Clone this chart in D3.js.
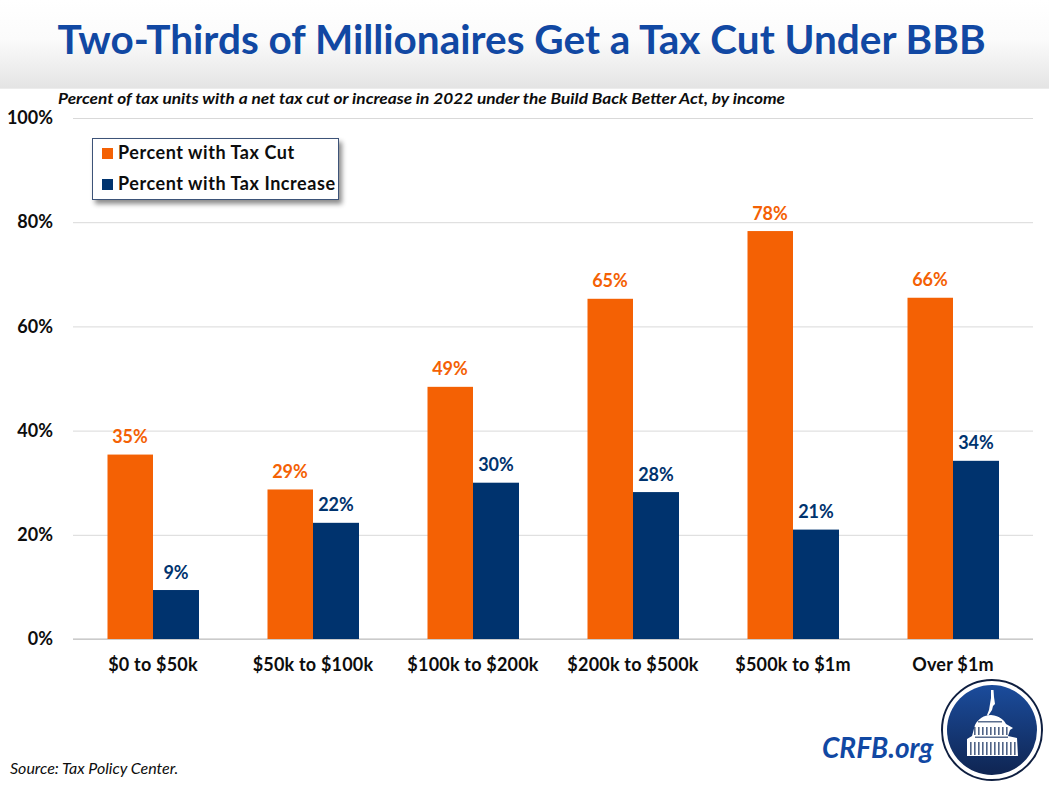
<!DOCTYPE html>
<html><head><meta charset="utf-8">
<script src="https://cdn.jsdelivr.net/npm/d3@7"></script>
<style>html,body{margin:0;padding:0;background:#fff;overflow:hidden}svg{display:block}text{font-family:Lato,sans-serif}</style>
</head><body><svg id="c" width="1049" height="787"></svg>
<script>
const categories=["$0 to $50k","$50k to $100k","$100k to $200k","$200k to $500k","$500k to $1m","Over $1m"];
const taxCut=[35.4,28.7,48.4,65.3,78.3,65.5];
const taxIncrease=[9.4,22.3,30,28.2,21,34.2];
const cutLabels=["35%","29%","49%","65%","78%","66%"];
const incLabels=["9%","22%","30%","28%","21%","34%"];
const yTicks=[0,20,40,60,80,100];
const legendItems=["Percent with Tax Cut","Percent with Tax Increase"];
const orange="#f46104",navy="#00336e",blue="#1148a3",ink="#0d0d0d";
const svg=d3.select("#c");
const defs=svg.append("defs");
const g0=defs.append("linearGradient").attr("id","hd").attr("x1",0).attr("x2",0).attr("y1",0).attr("y2",1);
g0.append("stop").attr("offset",0).attr("stop-color","#ffffff");
g0.append("stop").attr("offset",.45).attr("stop-color","#fbfbfb");
g0.append("stop").attr("offset",1).attr("stop-color","#e4e4e4");
const g1=defs.append("linearGradient").attr("id","lg").attr("x1",0).attr("x2",0).attr("y1",0).attr("y2",1);
g1.append("stop").attr("offset",0).attr("stop-color","#1b4c9c");
g1.append("stop").attr("offset",1).attr("stop-color","#0f2552");
const f=defs.append("filter").attr("id","sh").attr("x","-10%").attr("y","-10%").attr("width","125%").attr("height","130%");
f.append("feDropShadow").attr("dx",3).attr("dy",4).attr("stdDeviation",2.5).attr("flood-color","#000").attr("flood-opacity",.45);
svg.append("rect").attr("width",1049).attr("height",88).attr("fill","url(#hd)");
svg.append("line").attr("x1",0).attr("x2",1049).attr("y1",88.5).attr("y2",88.5).attr("stroke","#ececec");
svg.append("text").attr("x",521.5).attr("y",54).attr("text-anchor","middle").attr("font-size",40.5).attr("font-weight",700).attr("fill",blue).text("Two-Thirds of Millionaires Get a Tax Cut Under BBB");
svg.append("text").attr("x",58).attr("y",104).attr("font-size",15.5).attr("font-weight",700).attr("font-style","italic").attr("fill",ink).attr("textLength",727).attr("lengthAdjust","spacingAndGlyphs").text("Percent of tax units with a net tax cut or increase in 2022 under the Build Back Better Act, by income");
const y=d3.scaleLinear().domain([0,100]).range([639,118]);
const x=d3.scaleBand().domain(categories).range([73,1033]);
const bw=46;
const gy=svg.append("g").attr("transform","translate(73,0)").call(d3.axisLeft(y).tickValues(yTicks).tickFormat(d=>d+"%").tickSize(0).tickPadding(20));
gy.select(".domain").remove();
gy.selectAll("text").attr("font-size",18).attr("font-weight",700).attr("fill",ink).style("font-family","Lato,sans-serif");
gy.selectAll("line").attr("x2",960).attr("stroke","#d9d9d9").attr("stroke-width",1);
svg.append("line").attr("x1",73).attr("x2",1033).attr("y1",y(0)).attr("y2",y(0)).attr("stroke","#bdbdbd");
const cx=d=>x(d)+x.bandwidth()/2;
svg.append("g").selectAll("rect").data(categories).join("rect").attr("x",d=>cx(d)-bw+.5).attr("width",bw-.5).attr("y",(d,i)=>y(taxCut[i])).attr("height",(d,i)=>y(0)-y(taxCut[i])).attr("fill",orange);
svg.append("g").selectAll("rect").data(categories).join("rect").attr("x",d=>cx(d)).attr("width",bw).attr("y",(d,i)=>y(taxIncrease[i])).attr("height",(d,i)=>y(0)-y(taxIncrease[i])).attr("fill",navy);
svg.append("g").selectAll("text").data(categories).join("text").attr("x",d=>cx(d)-bw/2).attr("y",(d,i)=>y(taxCut[i])-11.5).attr("text-anchor","middle").attr("font-size",18).attr("font-weight",700).attr("fill",orange).text((d,i)=>cutLabels[i]);
svg.append("g").selectAll("text").data(categories).join("text").attr("x",d=>cx(d)+bw/2).attr("y",(d,i)=>y(taxIncrease[i])-11.5).attr("text-anchor","middle").attr("font-size",18).attr("font-weight",700).attr("fill",navy).text((d,i)=>incLabels[i]);
svg.append("g").selectAll("text").data(categories).join("text").attr("x",d=>cx(d)).attr("y",671).attr("text-anchor","middle").attr("font-size",18).attr("font-weight",700).attr("letter-spacing",".2").attr("fill",ink).text(d=>d);
svg.append("rect").attr("x",92.5).attr("y",138.5).attr("width",246).attr("height",61).attr("fill","#fff").attr("stroke","#3d5378").attr("filter","url(#sh)");
[orange,navy].forEach((c,i)=>{
 svg.append("rect").attr("x",102).attr("y",148+i*31).attr("width",11).attr("height",11).attr("fill",c);
 svg.append("text").attr("x",118).attr("y",159+i*31).attr("font-size",18).attr("font-weight",700).attr("letter-spacing",".55").attr("fill",ink).text(legendItems[i]);
});
svg.append("text").attr("x",10).attr("y",774).attr("font-size",16).attr("font-style","italic").attr("fill",ink).text("Source: Tax Policy Center.");
svg.append("text").attr("x",822).attr("y",758).attr("font-size",28).attr("font-weight",700).attr("font-style","italic").attr("fill",blue).text("CRFB.org");
const lg=svg.append("g").attr("transform","translate(992,730)");
lg.append("circle").attr("r",50).attr("fill","#fff").attr("stroke","#0f1f40").attr("stroke-width",2);
lg.append("circle").attr("r",45).attr("fill","url(#lg)");
lg.append("path").attr("d","M-1,-40 L1.5,-40 L2,-33 L3,-26 L1,-24 L0,-20 L-4,-14 L-5,-15 L-3,-20 L-2,-26 L-1,-32 Z").attr("fill","#fff");
lg.append("path").attr("d","M-17,-5 C-14,-11 -8,-15 -1,-15 C8,-14 12,-10 14,-6 L21,-2 L18,0 L16,6 L25,8 L26,26 L-25,26 L-25,9 L-20,6 Z").attr("fill","#fff");
const stripeX=[-22,-18,-14,-10,-6,-2,2,6,10,14,18,22];
lg.append("g").selectAll("rect").data(stripeX).join("rect").attr("x",d=>d).attr("y",12).attr("width",1.6).attr("height",13).attr("fill","#16305f").attr("opacity",.75);
lg.append("g").selectAll("rect").data(stripeX.slice(1,-2)).join("rect").attr("x",d=>d).attr("y",-3).attr("width",1.6).attr("height",8).attr("fill","#16305f").attr("opacity",.75);
lg.append("rect").attr("x",-17).attr("y",6.5).attr("width",33).attr("height",1.5).attr("fill","#16305f").attr("opacity",.7);
lg.append("rect").attr("x",-14).attr("y",-9).attr("width",24).attr("height",1.5).attr("fill","#16305f").attr("opacity",.7);
</script></body></html>
